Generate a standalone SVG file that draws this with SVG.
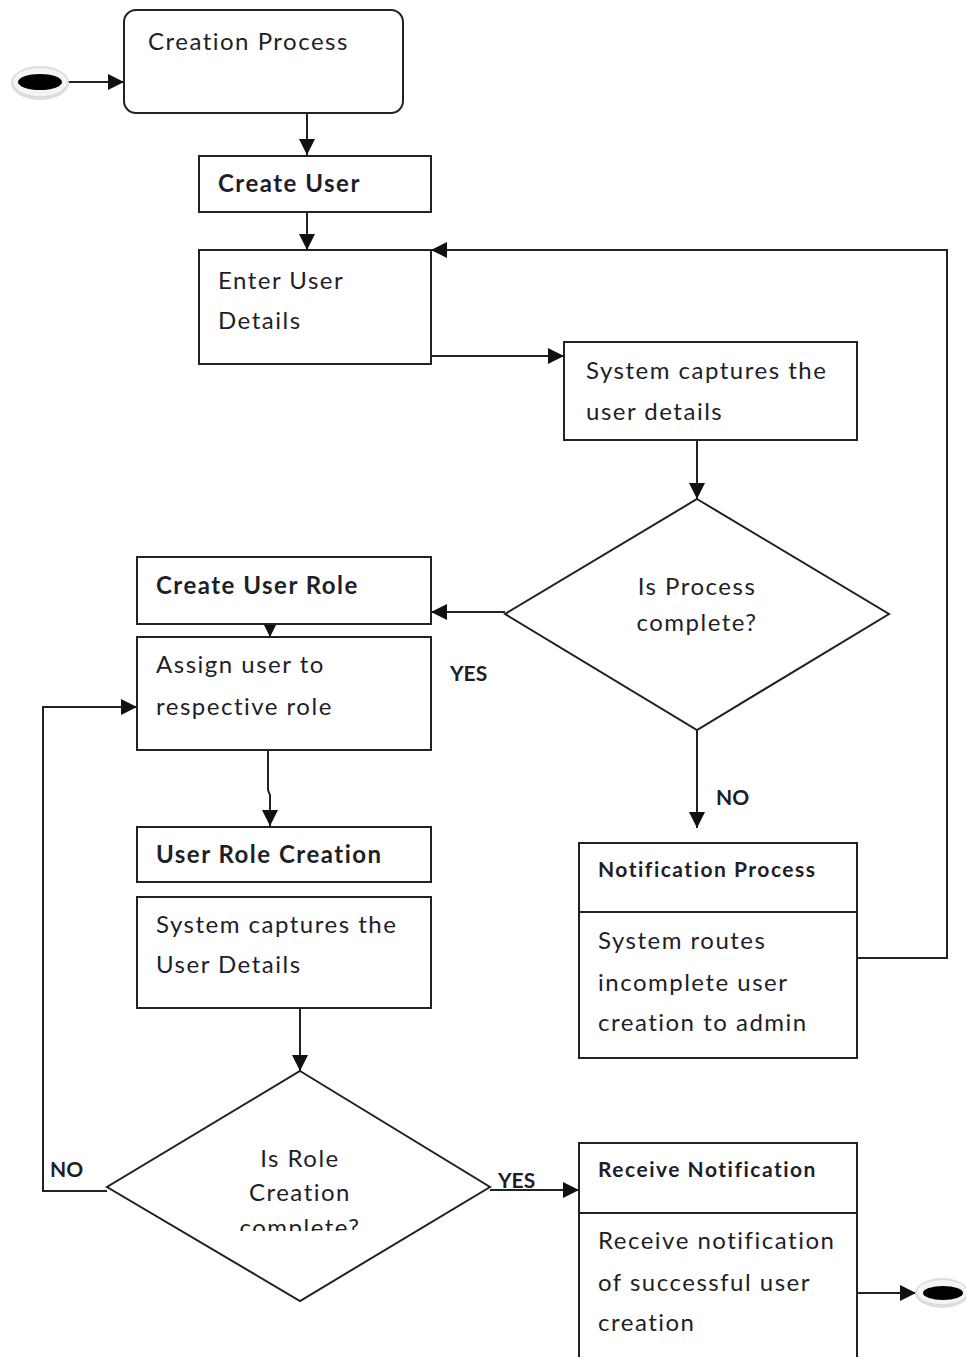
<svg xmlns="http://www.w3.org/2000/svg" width="966" height="1357" viewBox="0 0 966 1357">
  <style>
    .box { fill: #fff; stroke: #222; stroke-width: 2; }
    .ln { fill: none; stroke: #222; stroke-width: 2; }
    .t { font-family: Lato, "Open Sans", "Liberation Sans", sans-serif; font-size: 24px; fill: #1e1e28; letter-spacing: 1.5px; }
    .b { font-weight: bold; }
    .s { font-size: 21px; }
    .lbl { letter-spacing: 0; }
    .c { text-anchor: middle; }
  </style>
  <defs>
    <marker id="arrB" viewBox="0 0 10 10" refX="10" refY="5" markerWidth="16" markerHeight="16" markerUnits="userSpaceOnUse" orient="auto">
      <path d="M0,0 L10,5 L0,10 z" fill="#111"/>
    </marker>
    <clipPath id="dclip">
      <rect x="100" y="1060" width="400" height="171"/>
    </clipPath>
  </defs>

  <!-- connectors -->
  <g id="connectors" class="ln" marker-end="url(#arrB)">
    <line x1="68" y1="82" x2="124" y2="82"/>
    <line x1="307" y1="113" x2="307" y2="155"/>
    <line x1="307" y1="212" x2="307" y2="250"/>
    <line x1="431" y1="356" x2="564" y2="356"/>
    <line x1="697" y1="440" x2="697" y2="499"/>
    <line x1="505" y1="612" x2="431" y2="612"/>
    <line x1="270" y1="624" x2="270" y2="637"/>
    <polyline points="268,750 268,790 270,795 270,826"/>
    <line x1="300" y1="1008" x2="300" y2="1071"/>
    <polyline points="107,1191 43,1191 43,707 137,707"/>
    <line x1="490" y1="1190" x2="579" y2="1190"/>
    <line x1="697" y1="730" x2="697" y2="828"/>
    <polyline points="857,958 947,958 947,250 431,250"/>
    <line x1="857" y1="1293" x2="916" y2="1293"/>
  </g>

  <!-- start marker -->
  <g id="start">
    <ellipse cx="40" cy="83" rx="29" ry="17" fill="#dcdcdc"/>
    <ellipse cx="40" cy="82" rx="27" ry="14" fill="#f4f4f4"/>
    <ellipse cx="40" cy="82" rx="22" ry="8" fill="#000"/>
  </g>

  <g id="creation-process">
    <rect class="box" x="124" y="10" width="279" height="103" rx="12"/>
    <text class="t" x="148" y="50">Creation Process</text>
  </g>

  <g id="create-user">
    <rect class="box" x="199" y="156" width="232" height="56"/>
    <text class="t b" x="218" y="192">Create User</text>
  </g>

  <g id="enter-user-details">
    <rect class="box" x="199" y="250" width="232" height="114"/>
    <text class="t" x="218" y="289">Enter User</text>
    <text class="t" x="218" y="329">Details</text>
  </g>

  <g id="system-captures-1">
    <rect class="box" x="564" y="342" width="293" height="98"/>
    <text class="t" x="586" y="379">System captures the</text>
    <text class="t" x="586" y="420">user details</text>
  </g>

  <g id="decision-process">
    <polygon class="box" points="697,499 889,614 697,730 505,614"/>
    <text class="t c" x="697" y="595">Is Process</text>
    <text class="t c" x="697" y="631">complete?</text>
  </g>

  <g id="create-user-role">
    <rect class="box" x="137" y="557" width="294" height="67"/>
    <text class="t b" x="156" y="594">Create User Role</text>
  </g>

  <text class="t b s lbl" x="450" y="681">YES</text>

  <g id="assign-user">
    <rect class="box" x="137" y="637" width="294" height="113"/>
    <text class="t" x="156" y="673">Assign user to</text>
    <text class="t" x="156" y="715">respective role</text>
  </g>

  <g id="user-role-creation">
    <rect class="box" x="137" y="827" width="294" height="55"/>
    <text class="t b" x="156" y="863">User Role Creation</text>
  </g>

  <g id="system-captures-2">
    <rect class="box" x="137" y="897" width="294" height="111"/>
    <text class="t" x="156" y="933">System captures the</text>
    <text class="t" x="156" y="973">User Details</text>
  </g>

  <g id="decision-role">
    <polygon class="box" points="300,1071 490,1187 300,1301 107,1187"/>
    <text class="t c" x="300" y="1167">Is Role</text>
    <text class="t c" x="300" y="1201">Creation</text>
    <text class="t c" x="300" y="1236" clip-path="url(#dclip)">complete?</text>
  </g>

  <text class="t b s lbl" x="50" y="1177">NO</text>
  <text class="t b s lbl" x="498" y="1188">YES</text>
  <text class="t b s lbl" x="716" y="805">NO</text>

  <g id="notification-process">
    <rect class="box" x="579" y="843" width="278" height="215"/>
    <line class="ln" x1="579" y1="912" x2="857" y2="912"/>
    <text class="t b s" x="598" y="877">Notification Process</text>
    <text class="t" x="598" y="949">System routes</text>
    <text class="t" x="598" y="991">incomplete  user</text>
    <text class="t" x="598" y="1031">creation to admin</text>
  </g>

  <g id="receive-notification">
    <rect class="box" x="579" y="1143" width="278" height="230"/>
    <line class="ln" x1="579" y1="1213" x2="857" y2="1213"/>
    <text class="t b s" x="598" y="1177">Receive Notification</text>
    <text class="t" x="598" y="1249">Receive notification</text>
    <text class="t" x="598" y="1291">of successful user</text>
    <text class="t" x="598" y="1331">creation</text>
  </g>

  <!-- end marker -->
  <g id="end">
    <ellipse cx="942" cy="1293" rx="27" ry="15" fill="#dcdcdc"/>
    <ellipse cx="942" cy="1292" rx="25" ry="12" fill="#f4f4f4"/>
    <ellipse cx="943" cy="1293" rx="20" ry="7" fill="#000"/>
  </g>
</svg>
